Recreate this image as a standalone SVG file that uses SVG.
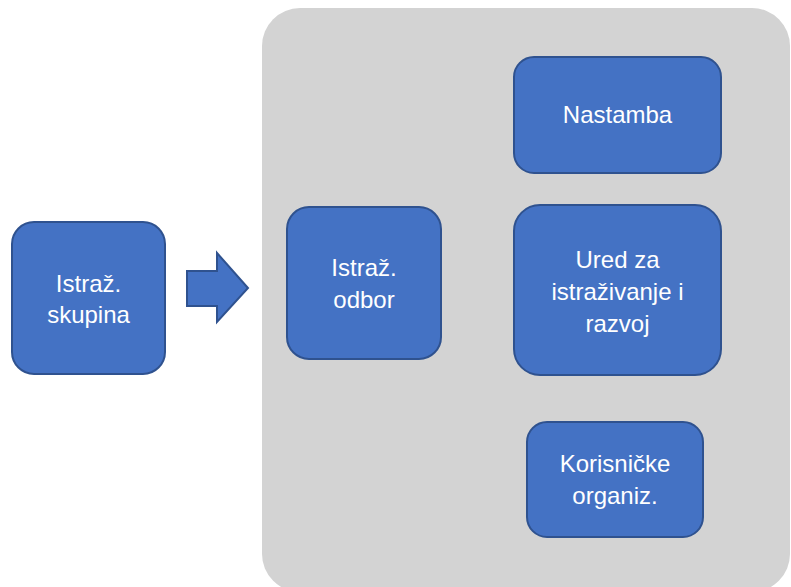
<svg xmlns="http://www.w3.org/2000/svg" width="791" height="587" viewBox="0 0 791 587">
  <style>
    .box { fill: #4472C4; stroke: #2F528F; stroke-width: 2; }
    .lbl { fill: #FFFFFF; font-family: "Liberation Sans", Arial, sans-serif; font-size: 24px; text-anchor: middle; }
  </style>

  <!-- grey container panel -->
  <rect id="panel" x="262" y="8" width="528" height="584" rx="38" ry="38" fill="#D3D3D3"/>

  <!-- connectors -->
  <g id="connectors">
    <path class="box" d="M187,271 L217,271 L217,253 L248,288 L217,322 L217,306 L187,306 Z"/>
  </g>

  <g id="istraz-skupina">
    <rect class="box" x="12" y="222" width="153" height="152" rx="22"/>
    <text class="lbl" x="88.5" y="292">Istraž.</text>
    <text class="lbl" x="88.5" y="323">skupina</text>
  </g>

  <g id="istraz-odbor">
    <rect class="box" x="287" y="207" width="154" height="152" rx="22"/>
    <text class="lbl" x="364" y="276">Istraž.</text>
    <text class="lbl" x="364" y="308">odbor</text>
  </g>

  <g id="nastamba">
    <rect class="box" x="514" y="57" width="207" height="116" rx="20"/>
    <text class="lbl" x="617.5" y="123">Nastamba</text>
  </g>

  <g id="ured">
    <rect class="box" x="514" y="205" width="207" height="170" rx="26"/>
    <text class="lbl" x="617.5" y="268">Ured za</text>
    <text class="lbl" x="617.5" y="300">istraživanje i</text>
    <text class="lbl" x="617.5" y="332">razvoj</text>
  </g>

  <g id="korisnicke">
    <rect class="box" x="527" y="422" width="176" height="115" rx="20"/>
    <text class="lbl" x="615" y="472">Korisničke</text>
    <text class="lbl" x="615" y="504">organiz.</text>
  </g>
</svg>
